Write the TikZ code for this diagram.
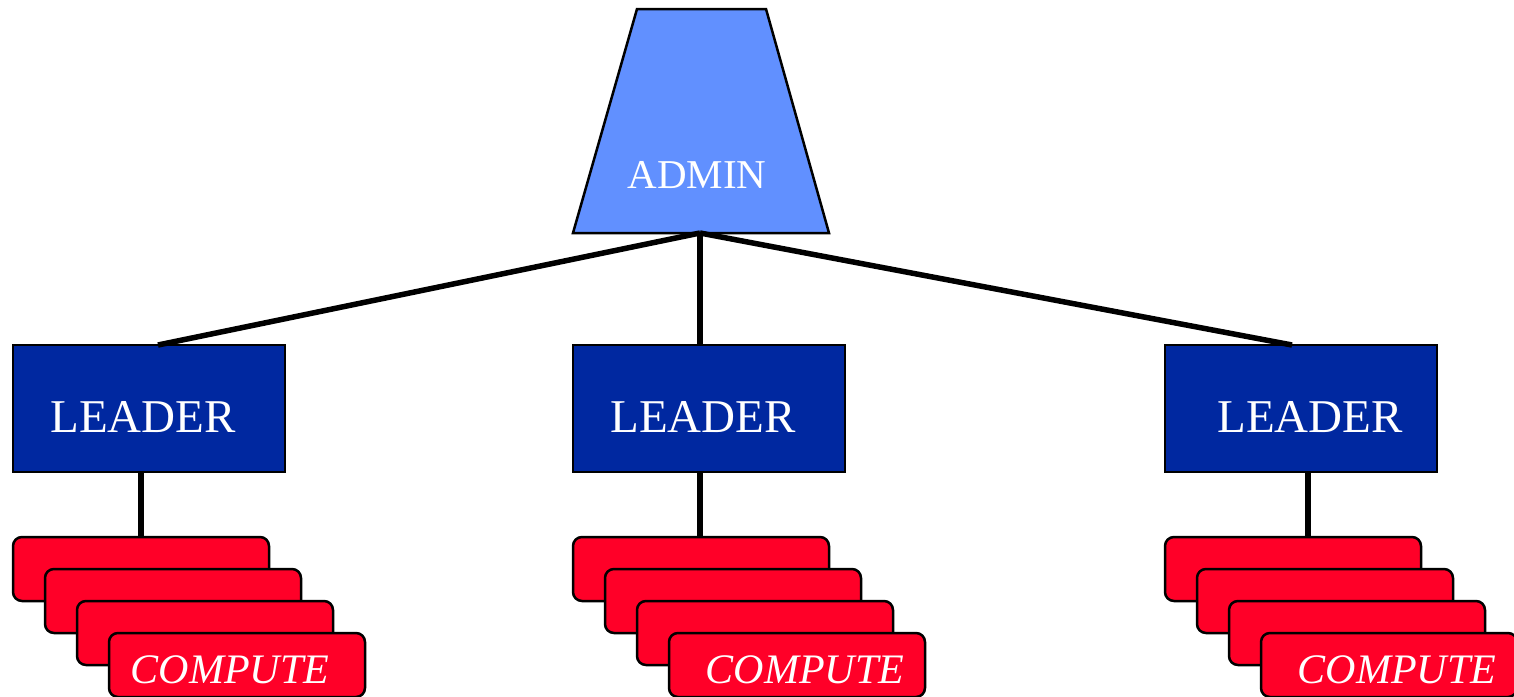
\documentclass[tikz,border=0pt]{standalone}
\usepackage{fontspec}
\setmainfont{Liberation Serif}
\definecolor{adminblue}{RGB}{97,144,255}
\definecolor{leaderblue}{RGB}{0,40,160}
\definecolor{computered}{RGB}{255,0,40}
\begin{document}
\begin{tikzpicture}[x=1pt,y=-1pt,
  leaderbox/.style={draw=black, line width=2.5pt, fill=leaderblue, minimum width=272pt, minimum height=127pt, inner sep=0pt, outer sep=0pt, anchor=north west},
  cardbox/.style={draw=black, line width=2.5pt, fill=computered, rounded corners=9pt, minimum width=256pt, minimum height=64pt, inner sep=0pt, outer sep=0pt, anchor=north west},
  leadertext/.style={text=white, font=\fontsize{47}{50}\selectfont, anchor=base},
  admintext/.style={text=white, font=\fontsize{41}{44}\selectfont, anchor=base},
  computetext/.style={text=white, font=\fontsize{42}{45}\selectfont\itshape, anchor=base},
  conn/.style={draw=black, line width=5.5pt}
]
\useasboundingbox (0,0) rectangle (1514,696);
\clip (0,0) rectangle (1514,696);

% admin trapezoid
\draw[line width=2.5pt, fill=adminblue, line join=miter] (637,9) -- (766,9) -- (829,233) -- (573,233) -- cycle;
\node[admintext] (admin) at (697,188) {ADMIN};
\coordinate (adminbot) at (700,233);

% leaders
\node[leaderbox] (l1) at (13,345) {};
\node[leaderbox] (l2) at (573,345) {};
\node[leaderbox] (l3) at (1165,345) {};
\node[leadertext] (l1t) at (143,432) {LEADER};
\node[leadertext] (l2t) at (703,432) {LEADER};
\node[leadertext] (l3t) at (1310,432) {LEADER};

% compute stacks
\foreach \s/\x in {a/13, b/573, c/1165}{
  \node[cardbox] (\s1) at (\x,537) {};
  \node[cardbox] (\s2) at (\x+32,569) {};
  \node[cardbox] (\s3) at (\x+64,601) {};
  \node[cardbox] (\s4) at (\x+96,633) {};
}
\node[computetext] (ca) at (230,683) {COMPUTE};
\node[computetext] (cb) at (805,683) {COMPUTE};
\node[computetext] (cc) at (1397,683) {COMPUTE};

% connectors
\draw[conn] (adminbot) -- ([xshift=9pt]l1.north);
\draw[conn] (adminbot) -- ([xshift=-9pt]l2.north);
\draw[conn] (adminbot) -- ([xshift=-9pt]l3.north);
\draw[conn] ([xshift=-8pt]l1.south) -- ([xshift=-8pt]l1.south |- a1.north);
\draw[conn] ([xshift=-9pt]l2.south) -- ([xshift=-9pt]l2.south |- b1.north);
\draw[conn] ([xshift=7pt]l3.south) -- ([xshift=7pt]l3.south |- c1.north);
\end{tikzpicture}
\end{document}
